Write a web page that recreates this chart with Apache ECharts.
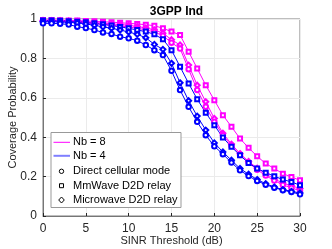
<!DOCTYPE html>
<html><head><meta charset="utf-8">
<script src="https://cdn.jsdelivr.net/npm/echarts@6/dist/echarts.min.js"></script>
<style>html,body{margin:0;padding:0;background:#fff}#c{width:332px;height:249px}</style>
</head><body><div id="c"></div>
<script>
const sinr = [0,1,2,3,4,5,6,7,8,9,10,11,12,13,14,15,16,17,18,19,20,21,22,23,24,25,26,27,28,29,30];
const xTicks = [0,5,10,15,20,25,30];
const yTicks = [0,0.2,0.4,0.6,0.8,1];
const nb8Mm = [0.995,0.995,0.994,0.993,0.992,0.99,0.988,0.986,0.984,0.981,0.978,0.975,0.971,0.966,0.953,0.936,0.919,0.834,0.749,0.664,0.588,0.512,0.453,0.393,0.346,0.303,0.266,0.241,0.215,0.198,0.181];
const nb8Micro = [0.993,0.992,0.991,0.99,0.988,0.985,0.982,0.979,0.975,0.972,0.968,0.962,0.955,0.945,0.928,0.895,0.868,0.766,0.664,0.58,0.495,0.42,0.365,0.317,0.277,0.243,0.214,0.188,0.167,0.153,0.14];
const nb8Direct = [0.99,0.989,0.988,0.986,0.984,0.98,0.976,0.972,0.968,0.964,0.96,0.953,0.945,0.934,0.915,0.88,0.85,0.745,0.64,0.555,0.478,0.41,0.357,0.31,0.27,0.235,0.205,0.18,0.158,0.143,0.128];
const nb4Mm = [0.993,0.992,0.991,0.989,0.986,0.983,0.978,0.973,0.967,0.96,0.953,0.944,0.936,0.922,0.897,0.842,0.758,0.673,0.593,0.524,0.461,0.398,0.351,0.308,0.269,0.241,0.22,0.202,0.185,0.173,0.156];
const nb4Micro = [0.986,0.986,0.985,0.983,0.98,0.975,0.968,0.96,0.953,0.944,0.934,0.922,0.905,0.871,0.846,0.775,0.676,0.585,0.507,0.436,0.371,0.325,0.283,0.241,0.212,0.185,0.164,0.147,0.134,0.125,0.117];
const nb4Direct = [0.978,0.978,0.976,0.972,0.961,0.954,0.944,0.932,0.924,0.91,0.902,0.89,0.868,0.842,0.817,0.737,0.639,0.554,0.478,0.41,0.354,0.314,0.271,0.232,0.203,0.178,0.159,0.144,0.131,0.122,0.11];
const legendNames = ['Nb = 8','Nb = 4','Direct cellular mode','MmWave D2D relay','Microwave D2D relay'];

const MAG = '#ff00ff', BLU = '#0000ff';
const font = 'Liberation Sans, Arial, sans-serif';
function pairs(ys){ return sinr.map((x,i)=>[x, ys[i]]); }
function curve(name, ys, color, sym, size){
  return {name, type:'line', data:pairs(ys), color, symbol:sym, symbolSize:size,
    showSymbol:true, lineStyle:{width:1,color}, itemStyle:{color, borderWidth:1},
    emphasis:{disabled:true}, animation:false, z:3};
}
// legend drawn with graphic elements
const LX = 51, LY = 132.5, LW = 130, LH = 75;
const rowY = [142.3, 155.8, 171.3, 185.7, 200];
const legendEls = [
  {type:'rect', shape:{x:LX, y:LY, width:LW, height:LH}, style:{fill:'#fff', stroke:'#999', lineWidth:1}, z:10},
  {type:'line', shape:{x1:53.5, y1:rowY[0], x2:70, y2:rowY[0]}, style:{stroke:MAG, lineWidth:1}, z:11},
  {type:'line', shape:{x1:53.5, y1:rowY[1], x2:70, y2:rowY[1]}, style:{stroke:'#7f7fff', lineWidth:2}, z:11},
  {type:'circle', shape:{cx:61.5, cy:rowY[2], r:2.2}, style:{fill:'none', stroke:'#000', lineWidth:1}, z:11},
  {type:'rect', shape:{x:59.5, y:rowY[3]-2, width:4, height:4}, style:{fill:'none', stroke:'#000', lineWidth:1}, z:11},
  {type:'polygon', shape:{points:[[61.5,rowY[4]-3],[64.3,rowY[4]],[61.5,rowY[4]+3],[58.7,rowY[4]]]}, style:{fill:'none', stroke:'#000', lineWidth:1}, z:11}
];
legendNames.forEach((t,i)=>legendEls.push({type:'text', x:73, y:rowY[i], z:11,
  style:{text:t, fontSize:11, fontFamily:font, fill:'#000', textVerticalAlign:'middle', verticalAlign:'middle'}}));

const chart = echarts.init(document.getElementById('c'), null, {renderer:'canvas'});
chart.setOption({
  animation:false,
  backgroundColor:'#fff',
  title:{text:'3GPP Ind', left:171.5, textAlign:'center', top:1,
    textStyle:{fontSize:12, fontWeight:'bold', color:'#000', fontFamily:font}},
  grid:{left:43, right:32, top:19, bottom:33, outerBoundsMode:'none', containLabel:false,
    show:true, borderColor:'#262626', borderWidth:0.6, backgroundColor:'#fff'},
  xAxis:{type:'value', min:0, max:30, interval:5,
    name:'SINR Threshold (dB)', nameLocation:'middle', nameGap:19, nameMoveOverlap:false,
    nameTextStyle:{fontSize:11, color:'#262626', fontFamily:font},
    axisLine:{show:true, lineStyle:{color:'#262626', width:0.6}},
    axisTick:{show:true, inside:true, length:3, lineStyle:{color:'#262626'}},
    axisLabel:{fontSize:12, color:'#262626', fontFamily:font, margin:7, formatter:v=>xTicks.includes(v)?String(v):''},
    splitLine:{show:true, lineStyle:{color:'#ebebeb', width:1}}},
  yAxis:{type:'value', min:0, max:1, interval:0.2,
    name:'Coverage Probability', nameLocation:'middle', nameGap:24.5, nameMoveOverlap:false,
    nameTextStyle:{fontSize:11, color:'#262626', fontFamily:font},
    axisLine:{show:true, lineStyle:{color:'#262626', width:0.6}},
    axisTick:{show:true, inside:true, length:3, lineStyle:{color:'#262626'}},
    axisLabel:{fontSize:12, color:'#262626', fontFamily:font, margin:6,
      formatter:v=>{const t=yTicks.find(k=>Math.abs(k-v)<1e-9); return t===undefined?'':String(t);}},
    splitLine:{show:true, lineStyle:{color:'#ebebeb', width:1}}},
  graphic:{elements:legendEls},
  series:[
    curve('nb8 mm', nb8Mm, MAG, 'emptyRect', 4),
    curve('nb8 micro', nb8Micro, MAG, 'emptyDiamond', 5),
    curve('nb8 direct', nb8Direct, MAG, 'emptyCircle', 4.5),
    curve('nb4 mm', nb4Mm, BLU, 'emptyRect', 4),
    curve('nb4 micro', nb4Micro, BLU, 'emptyDiamond', 5),
    curve('nb4 direct', nb4Direct, BLU, 'emptyCircle', 4.5)
  ]
});
</script></body></html>
